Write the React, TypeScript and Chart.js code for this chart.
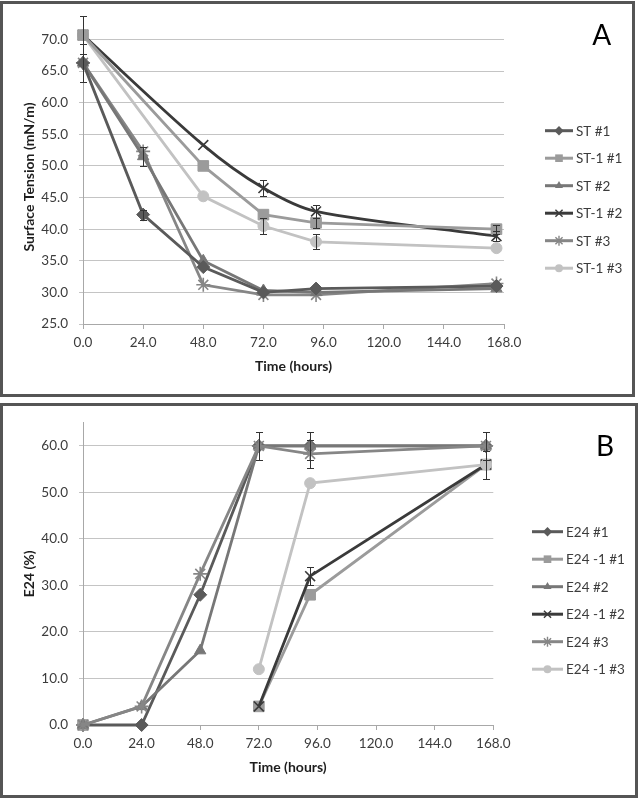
import React, { useEffect, useRef } from "react";
import { Chart, registerables } from "chart.js";

Chart.register(...registerables);

// ---------------- data ----------------
const HOURS = [0, 24, 48, 72, 93, 165];
const X_TICKS = [0, 24, 48, 72, 96, 120, 144, 168];

// Panel A – surface tension (mN/m)
const A_LABELS = ["ST #1", "ST-1 #1", "ST #2", "ST-1 #2", "ST #3", "ST-1 #3"];
const A_Y_TICKS = [25, 30, 35, 40, 45, 50, 55, 60, 65, 70];
const A_ST1 = [66.3, 42.3, 34.0, 30.0, 30.6, 31.0];
const A_ST1_1 = [70.7, null, 50.0, 42.3, 41.0, 40.0];
const A_ST2 = [66.3, 51.5, 35.0, 30.3, 30.0, 30.6];
const A_ST1_2 = [70.7, null, 53.3, 46.5, 42.8, 38.9];
const A_ST3 = [66.3, 52.3, 31.2, 29.6, 29.6, 31.4];
const A_ST1_3 = [70.7, null, 45.2, 40.5, 38.0, 37.0];

const A_ERR_ST1 = [3.0, 0.8, 0, 0, 0, 0];
const A_ERR_ST1_1 = [3.0, 0, 0, 0, 0.8, 0.7];
const A_ERR_ST2 = [0, 1.5, 0, 0, 0, 0];
const A_ERR_ST1_2 = [0, 0, 0, 1.2, 1.0, 0.8];
const A_ERR_ST3 = [0, 0, 0, 0, 0, 0];
const A_ERR_ST1_3 = [0, 0, 0, 1.3, 1.2, 0];

// Panel B – E24 (%)
const B_LABELS = ["E24 #1", "E24 -1 #1", "E24 #2", "E24 -1 #2", "E24 #3", "E24 -1 #3"];
const B_Y_TICKS = [0, 10, 20, 30, 40, 50, 60];
const B_E24_1 = [0, 0, 28, 60, 60, 60];
const B_E24M_1 = [0, null, null, 4, 28, 56];
const B_E24_2 = [0, 4, 16, 60, 60, 60];
const B_E24M_2 = [null, null, null, 4, 32, 56];
const B_E24_3 = [0, 4, 32.5, 60, 58.3, 60];
const B_E24M_3 = [null, null, null, 12, 52, 56];

const B_ERR_E24_1 = [0, 0, 0, 3, 3, 3];
const B_ERR_E24M_1 = [0, 0, 0, 0, 0, 3];
const B_ERR_E24_2 = [0, 0, 0, 0, 0, 0];
const B_ERR_E24M_2 = [0, 0, 0, 0, 1.9, 0];
const B_ERR_E24_3 = [0, 0, 0, 0, 3, 0];
const B_ERR_E24M_3 = [0, 0, 0, 0, 0, 0];

// ---------------- styles ----------------
const STYLE = [
  { color: "#5a5a5a", marker: "rectRot", radius: 6.5 },
  { color: "#9b9b9b", marker: "rect", radius: 7.5 },
  { color: "#777777", marker: "triangle", radius: 6.5 },
  { color: "#3a3a3a", marker: "crossRot", radius: 7 },
  { color: "#868686", marker: "star", radius: 7 },
  { color: "#c2c2c2", marker: "circle", radius: 5.5 },
];
const FONT = "Lato";
const TICK_COLOR = "#3c3c3c";
const GRID_COLOR = "#c4c4c4";
const AXIS_COLOR = "#a8a8a8";

function drawMarker(ctx: CanvasRenderingContext2D, kind: string, x: number, y: number, r: number, color: string) {
  ctx.save();
  ctx.fillStyle = color;
  ctx.strokeStyle = color;
  ctx.lineWidth = 1.4;
  ctx.beginPath();
  if (kind === "rectRot") {
    ctx.moveTo(x, y - r); ctx.lineTo(x + r, y); ctx.lineTo(x, y + r); ctx.lineTo(x - r, y); ctx.closePath(); ctx.fill();
  } else if (kind === "rect") {
    const s = r * Math.SQRT1_2; ctx.rect(x - s, y - s, 2 * s, 2 * s); ctx.fill();
  } else if (kind === "triangle") {
    for (let k = 0; k < 3; k++) {
      const a = (k * 2 * Math.PI) / 3;
      const px = x + Math.sin(a) * r, py = y - Math.cos(a) * r;
      if (k === 0) ctx.moveTo(px, py); else ctx.lineTo(px, py);
    }
    ctx.closePath(); ctx.fill();
  } else if (kind === "circle") {
    ctx.arc(x, y, r, 0, Math.PI * 2); ctx.fill();
  } else {
    const d = r * Math.SQRT1_2;
    ctx.moveTo(x - d, y - d); ctx.lineTo(x + d, y + d);
    ctx.moveTo(x - d, y + d); ctx.lineTo(x + d, y - d);
    if (kind === "star") { ctx.moveTo(x, y - r); ctx.lineTo(x, y + r); ctx.moveTo(x - r, y); ctx.lineTo(x + r, y); }
    ctx.stroke();
  }
  ctx.restore();
}

type PanelCfg = {
  labels: string[];
  series: (number | null)[][];
  errors: number[][];
  yMin: number; yMax: number; yTicks: number[];
  yTitle: string;
  padTop: number; padRight: number; xHeight: number;
  xTitlePad: number;
  spanGaps: boolean;
  tension: number[];
  excelOrder: boolean;
  legend: { x1: number; x2: number; tx: number; y0: number; dy: number };
  letter: { text: string; x: number; y: number };
};

function makeConfig(p: PanelCfg): any {
  const datasets = p.series.map((vals, i) => {
    const st = STYLE[i];
    const cross = st.marker === "crossRot" || st.marker === "star";
    return {
      label: p.labels[i],
      data: HOURS.map((h, j) => ({ x: h, y: vals[j] })),
      borderColor: st.color,
      backgroundColor: st.color,
      pointBackgroundColor: st.color,
      pointBorderColor: st.color,
      pointStyle: st.marker,
      pointRadius: st.radius,
      pointHoverRadius: st.radius,
      pointBorderWidth: cross ? 1.6 : 1,
      borderWidth: 2.8,
      tension: p.tension[i],
      spanGaps: p.spanGaps,
      clip: false,
      order: p.excelOrder ? p.series.length - 1 - i : 0,
    };
  });

  const decor = {
    id: "decor",
    afterDatasetsDraw(chart: any) {
      const ctx = chart.ctx as CanvasRenderingContext2D;
      const ys = chart.scales.y;
      ctx.save();
      ctx.strokeStyle = "#333333";
      ctx.lineWidth = 1;
      p.errors.forEach((errs, i) => {
        const meta = chart.getDatasetMeta(i);
        const vals = p.series[i];
        errs.forEach((e, j) => {
          const v = vals[j];
          if (!e || v == null) return;
          const pt = meta.data[j];
          const x = Math.round(pt.x) + 0.5;
          const y1 = Math.round(ys.getPixelForValue(v + e)) + 0.5;
          const y2 = Math.round(ys.getPixelForValue(v - e)) + 0.5;
          ctx.beginPath();
          ctx.moveTo(x, y1); ctx.lineTo(x, y2);
          ctx.moveTo(x - 3.5, y1); ctx.lineTo(x + 3.5, y1);
          ctx.moveTo(x - 3.5, y2); ctx.lineTo(x + 3.5, y2);
          ctx.stroke();
        });
      });
      ctx.restore();
    },
    afterDraw(chart: any) {
      const ctx = chart.ctx as CanvasRenderingContext2D;
      const L = p.legend;
      ctx.save();
      p.labels.forEach((lab, i) => {
        const st = STYLE[i];
        const y = L.y0 + i * L.dy;
        ctx.strokeStyle = st.color;
        ctx.lineWidth = 3;
        ctx.beginPath();
        ctx.moveTo(L.x1, y); ctx.lineTo(L.x2, y);
        ctx.stroke();
        drawMarker(ctx, st.marker, (L.x1 + L.x2) / 2, y, st.radius * 0.72, st.color);
        ctx.fillStyle = TICK_COLOR;
        ctx.font = `13.5px ${FONT}`;
        ctx.textAlign = "left";
        ctx.textBaseline = "middle";
        ctx.fillText(lab, L.tx, y + 0.5);
      });
      ctx.fillStyle = "#000000";
      ctx.font = `28px ${FONT}`;
      ctx.textAlign = "center";
      ctx.textBaseline = "middle";
      ctx.fillText(p.letter.text, p.letter.x, p.letter.y);
      ctx.restore();
    },
  };

  const tickFont = { family: FONT, size: 13.5 };
  const titleFont = { family: FONT, size: 14, weight: "bold" as const };

  return {
    type: "line",
    data: { datasets },
    plugins: [decor],
    options: {
      responsive: false,
      animation: false,
      devicePixelRatio: 1,
      events: [],
      layout: { padding: { top: p.padTop, right: p.padRight, bottom: 0, left: 0 } },
      plugins: { legend: { display: false }, tooltip: { enabled: false }, title: { display: false } },
      scales: {
        x: {
          type: "linear",
          min: X_TICKS[0],
          max: X_TICKS[X_TICKS.length - 1],
          afterBuildTicks: (s: any) => { s.ticks = X_TICKS.map((v) => ({ value: v })); },
          ticks: {
            autoSkip: false,
            maxRotation: 0,
            color: TICK_COLOR,
            font: tickFont,
            padding: 6,
            callback: (v: any) => Number(v).toFixed(1),
          },
          grid: { drawOnChartArea: false, drawTicks: true, tickLength: 5, color: AXIS_COLOR },
          border: { display: true, color: AXIS_COLOR, width: 1 },
          title: {
            display: true,
            text: "Time (hours)",
            color: "#1e1e1e",
            font: titleFont,
            padding: { top: 0, bottom: p.xTitlePad },
          },
          afterFit: (s: any) => { s.height = p.xHeight; },
        },
        y: {
          type: "linear",
          min: p.yMin,
          max: p.yMax,
          afterBuildTicks: (s: any) => { s.ticks = p.yTicks.map((v) => ({ value: v })); },
          ticks: {
            autoSkip: false,
            color: TICK_COLOR,
            font: tickFont,
            padding: 11,
            callback: (v: any) => Number(v).toFixed(1),
          },
          grid: { color: GRID_COLOR, lineWidth: 1, drawTicks: true, tickLength: 4 },
          border: { display: true, color: AXIS_COLOR, width: 1 },
          title: {
            display: true,
            text: p.yTitle,
            color: "#1e1e1e",
            font: titleFont,
            padding: { top: 21, bottom: 0 },
          },
          afterFit: (s: any) => { s.width = 83; },
        },
      },
    },
  };
}

const CFG_A: PanelCfg = {
  labels: A_LABELS,
  series: [A_ST1, A_ST1_1, A_ST2, A_ST1_2, A_ST3, A_ST1_3],
  errors: [A_ERR_ST1, A_ERR_ST1_1, A_ERR_ST2, A_ERR_ST1_2, A_ERR_ST3, A_ERR_ST1_3],
  yMin: 25, yMax: 71.5, yTicks: A_Y_TICKS,
  yTitle: "Surface Tension (mN/m)",
  padTop: 30, padRight: 138, xHeight: 76, xTitlePad: 25,
  spanGaps: true,
  tension: [0, 0, 0, 0.3, 0, 0],
  excelOrder: false,
  legend: { x1: 545, x2: 573, tx: 576, y0: 130.7, dy: 27.5 },
  letter: { text: "A", x: 601.7, y: 36 },
};

const CFG_B: PanelCfg = {
  labels: B_LABELS,
  series: [B_E24_1, B_E24M_1, B_E24_2, B_E24M_2, B_E24_3, B_E24M_3],
  errors: [B_ERR_E24_1, B_ERR_E24M_1, B_ERR_E24_2, B_ERR_E24M_2, B_ERR_E24_3, B_ERR_E24M_3],
  yMin: 0, yMax: 65, yTicks: B_Y_TICKS,
  yTitle: "E24 (%)",
  padTop: 22.7, padRight: 148.7, xHeight: 75, xTitlePad: 24,
  spanGaps: false,
  tension: [0, 0, 0, 0, 0, 0],
  excelOrder: true,
  legend: { x1: 532, x2: 563, tx: 566, y0: 131.7, dy: 27.5 },
  letter: { text: "B", x: 605, y: 47.3 },
};

export default function App() {
  const refA = useRef<HTMLCanvasElement>(null);
  const refB = useRef<HTMLCanvasElement>(null);

  useEffect(() => {
    const a = new Chart(refA.current as HTMLCanvasElement, makeConfig(CFG_A));
    const b = new Chart(refB.current as HTMLCanvasElement, makeConfig(CFG_B));
    return () => {
      a.destroy();
      b.destroy();
    };
  }, []);

  const frame = { position: "absolute" as const, boxSizing: "border-box" as const, border: "3px solid #555555", background: "#ffffff" };
  return (
    <div style={{ position: "absolute", left: 0, top: 0, width: 642, height: 800, background: "#ffffff", overflow: "hidden" }}>
      <div style={{ ...frame, left: 0, top: 1, width: 635, height: 396 }} />
      <div style={{ ...frame, left: 0, top: 403, width: 638, height: 395 }} />
      <canvas ref={refA} width={642} height={400} style={{ position: "absolute", left: 0, top: 0, width: 642, height: 400 }} />
      <canvas ref={refB} width={642} height={400} style={{ position: "absolute", left: 0, top: 400, width: 642, height: 400 }} />
    </div>
  );
}
